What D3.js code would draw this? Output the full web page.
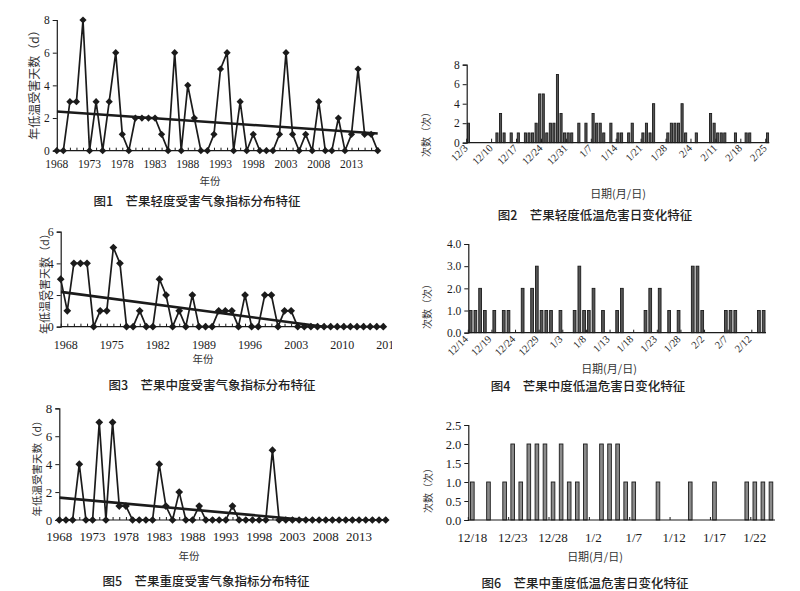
<!DOCTYPE html>
<html><head><meta charset="utf-8">
<script src="https://cdn.jsdelivr.net/npm/d3@7"></script>
<style>body{margin:0;background:#fff}svg{display:block}</style>
</head><body>
<svg id="c" width="800" height="591"></svg>
<script>
// ---------------- DATA ----------------
const years = [1968,1969,1970,1971,1972,1973,1974,1975,1976,1977,1978,1979,1980,1981,1982,1983,1984,1985,1986,1987,1988,1989,1990,1991,1992,1993,1994,1995,1996,1997,1998,1999,2000,2001,2002,2003,2004,2005,2006,2007,2008,2009,2010,2011,2012,2013,2014,2015,2016,2017];
const mildDays     = [0,0,3,3,8,0,3,0,3,6,1,0,2,2,2,2,1,0,6,0,4,2,0,0,1,5,6,0,3,0,1,0,0,0,1,6,1,0,1,0,3,0,0,2,0,1,5,1,1,0];
const moderateDays = [3,1,4,4,4,0,1,1,5,4,0,0,1,0,0,3,2,0,1,0,2,0,0,0,1,1,1,0,2,0,0,2,2,0,1,1,0,0,0,0,0,0,0,0,0,0,0,0,0,0];
const severeDays   = [0,0,0,4,0,0,7,0,7,1,1,0,0,0,0,4,1,0,2,0,0,1,0,0,0,0,1,0,0,0,0,0,5,0,0,0,0,0,0,0,0,0,0,0,0,0,0,0,0,0];
// linear trend values at first and last year
const mildTrend     = [2.4, 1.05];
const moderateTrend = [2.2, -0.5];
const severeTrend   = [1.6, -0.51];
const fig1Labels = [1968,1973,1978,1983,1988,1993,1998,2003,2008,2013];
const fig3Labels = [1968,1975,1982,1989,1996,2003,2010,2017];
const fig5Labels = [1968,1973,1978,1983,1988,1993,1998,2003,2008,2013];

// daily counts
const fmt = d3.timeFormat("%-m/%-d");
const fig2Days = d3.timeDay.range(new Date(2000,11,3), new Date(2001,1,26)).map(fmt);   // 12/3 - 2/25
const fig2Counts = [2,0,0,0,0,0,0,0, 1,3,1,0,1,0,1,0, 1,1,1,2,5,5,1,2, 2,7,3,1,1,1,0,2,
                    0,2,0,3,2,2,1,0, 2,0,1,1,0,1,2,0, 0,1,2,1,4,0,0,0, 1,2,2,2,4,1,0,0,
                    1,0,0,0,3,2,1,1, 1,0,0,1,0,0,1,1, 0,0,0,0,1];
const fig2Labels = ["12/3","12/10","12/17","12/24","12/31","1/7","1/14","1/21","1/28","2/4","2/11","2/18","2/25"];

const fig4Days = d3.timeDay.range(new Date(2000,11,14), new Date(2001,1,15)).map(fmt);  // 12/14 - 2/14
const fig4Counts = [1,1,2,1,0,1,0,1,1,0, 0,2,0,2,3,1,1,1,0,1, 0,0,1,3,1,1,2,0,1,0,
                    0,1,2,0,0,0,0,1,2,0, 2,0,1,0,1,0,0,3,3,1, 0,0,0,0,1,1,1,0,0,0, 0,1,1];
const fig4Labels = ["12/14","12/19","12/24","12/29","1/3","1/8","1/13","1/18","1/23","1/28","2/2","2/7","2/12"];

const fig6Days = d3.timeDay.range(new Date(2000,11,18), new Date(2001,0,25)).map(fmt);  // 12/18 - 1/24
const fig6Counts = [1,0,1,0,1,2,1,2,2,2, 1,2,1,1,2,0,2,2,2,1, 1,0,0,1,0,0,0,1,0,0, 1,0,0,0,1,1,1,1];
const fig6Labels = ["12/18","12/23","12/28","1/2","1/7","1/12","1/17","1/22"];

const captions = ["图1　芒果轻度受害气象指标分布特征","图2　芒果轻度低温危害日变化特征",
                  "图3　芒果中度受害气象指标分布特征","图4　芒果中度低温危害日变化特征",
                  "图5　芒果重度受害气象指标分布特征","图6　芒果中重度低温危害日变化特征"];

// ---------------- DRAWING ----------------
const svg = d3.select("#c");
svg.append("rect").attr("width",800).attr("height",591).attr("fill","#fff");
const NUM = "'Liberation Serif', 'DejaVu Serif', serif";
const CJK = "'Noto Sans CJK SC', sans-serif";
const INK = "#1b1b1b";
const defs = svg.append("defs");

function styleAxis(g, fs){
  g.selectAll("path.domain").attr("stroke",INK).attr("stroke-width",1.2);
  g.selectAll(".tick line").attr("stroke",INK).attr("stroke-width",1);
  g.selectAll(".tick text").attr("fill",INK).attr("font-family",NUM).attr("font-size",fs);
}

function linePanel(c){
  const g = svg.append("g");
  const x = d3.scaleLinear().domain([years[0], years[years.length-1]]).range([c.x0, c.x1]);
  const y = d3.scaleLinear().domain([0, c.yMax]).range([c.y0, c.yTop]);
  const ya = g.append("g").attr("transform",`translate(${c.x0},0)`)
    .call(d3.axisLeft(y).tickValues(c.yTicks).tickSize(4).tickPadding(3).tickFormat(d3.format("d")));
  styleAxis(ya, c.fs);
  const xa = g.append("g").attr("transform",`translate(0,${c.y0})`)
    .call(d3.axisBottom(x).tickValues(years).tickSize(-3).tickFormat(""));
  styleAxis(xa, c.fs);
  xa.select("path.domain").attr("d",`M${c.x0},0H${c.x1 + 2}`);
  const clipId = "tclip" + c.id;
  defs.append("clipPath").attr("id",clipId).append("rect")
    .attr("x",0).attr("y",c.y0).attr("width",c.textClip).attr("height",40);
  g.append("g").attr("clip-path",`url(#${clipId})`).selectAll("text").data(c.labels).join("text")
    .attr("x", d => x(d) + c.labelDx).attr("y", c.labelY)
    .attr("text-anchor","middle").attr("dominant-baseline","central")
    .attr("font-family",NUM).attr("font-size",c.fs).attr("fill",INK).text(d => d);
  const pcId = "pclip" + c.id;
  defs.append("clipPath").attr("id",pcId).append("rect")
    .attr("x",c.x0).attr("y",c.yTop-10).attr("width",c.x1-c.x0+5).attr("height",c.y0-c.yTop+10);
  const trendPts = [[years[0], c.trend[0]],[years[years.length-1], c.trend[1]]];
  g.append("path").datum(c.values.map((v,i)=>[years[i],v]))
    .attr("d", d3.line().x(d=>x(d[0])).y(d=>y(d[1])))
    .attr("fill","none").attr("stroke",INK).attr("stroke-width",1.7).attr("stroke-linejoin","round");
  g.append("path").datum(trendPts).attr("clip-path",`url(#${pcId})`)
    .attr("d", d3.line().x(d=>x(d[0])).y(d=>y(d[1])))
    .attr("fill","none").attr("stroke",INK).attr("stroke-width",2.6);
  g.selectAll("path.mk").data(c.values).join("path").attr("class","mk")
    .attr("d", d3.symbol(d3.symbolSquare, c.mk))
    .attr("transform",(d,i)=>`translate(${x(years[i])},${y(d)}) rotate(45)`)
    .attr("fill",INK);
  g.append("text").attr("transform",`translate(${c.yTitle[0]},${c.yTitle[1]}) rotate(-90)`)
    .attr("text-anchor","middle").attr("dominant-baseline","central")
    .attr("font-family",CJK).attr("font-size",c.yTitleFs).attr("fill","#333").text("年低温受害天数（d）");
  g.append("text").attr("x",c.xTitle[0]).attr("y",c.xTitle[1])
    .attr("text-anchor","middle").attr("dominant-baseline","central")
    .attr("font-family",CJK).attr("font-size",10.5).attr("fill","#333").text("年份");
}

function barPanel(c){
  const g = svg.append("g");
  const x = d3.scaleBand().domain(c.cats).range([c.x0, c.x1]).paddingInner(c.pad).paddingOuter(c.pad/2);
  const y = d3.scaleLinear().domain([0, c.yMax]).range([c.y0, c.yTop]);
  const ya = g.append("g").attr("transform",`translate(${c.x0},0)`)
    .call(d3.axisLeft(y).tickValues(c.yTicks).tickSize(4).tickPadding(3).tickFormat(c.yFmt));
  styleAxis(ya, c.yFs);
  g.selectAll("rect.bar").data(c.values.map((v,i)=>({cat:c.cats[i], v})).filter(d=>d.v>0)).join("rect")
    .attr("class","bar")
    .attr("x", d => x(d.cat)).attr("width", x.bandwidth())
    .attr("y", d => y(d.v)).attr("height", d => y(0) - y(d.v))
    .attr("fill", c.fill).attr("stroke", INK).attr("stroke-width", 0.9);
  const step = x.step();
  const xa = g.append("g").attr("transform",`translate(0,${c.y0})`)
    .call(d3.axisBottom(x).tickValues(c.labels).tickSize(-c.tickLen).tickFormat(""));
  styleAxis(xa, 10);
  xa.select("path.domain").attr("d",`M${c.x0},0H${c.x1}`);
  xa.selectAll(".tick").attr("transform", d => `translate(${x(d) - (step - x.bandwidth())/2},0)`);
  const lab = g.append("g").selectAll("text").data(c.labels).join("text")
    .attr("font-family",NUM).attr("font-size",c.xFs).attr("fill",INK).text(d=>d);
  if (c.rotate){
    lab.attr("text-anchor","end")
      .attr("transform", d => `translate(${x(d) + x.bandwidth()/2 + c.lblDx},${c.y0 + c.lblDy}) rotate(-45)`);
  } else {
    lab.attr("text-anchor","middle").attr("dominant-baseline","central")
      .attr("x", d => x(d) + x.bandwidth()/2).attr("y", c.labelY);
  }
  g.append("text").attr("transform",`translate(${c.yTitle[0]},${c.yTitle[1]}) rotate(-90)`)
    .attr("text-anchor","middle").attr("dominant-baseline","central")
    .attr("font-family",CJK).attr("font-size",c.yTitleFs).attr("fill","#333").text("次数（次）");
  g.append("text").attr("x",c.xTitle[0]).attr("y",c.xTitle[1])
    .attr("text-anchor","middle").attr("dominant-baseline","central")
    .attr("font-family",CJK).attr("font-size",11).attr("fill","#333").text("日期(月/日)");
}

function caption(i, cx, cy){
  svg.append("text").attr("x",cx).attr("y",cy).attr("text-anchor","middle").attr("dominant-baseline","central")
    .attr("font-family",CJK).attr("font-size",12.5).attr("font-weight",500).attr("fill","#222").text(captions[i]);
}

linePanel({id:1, values:mildDays, trend:mildTrend, labels:fig1Labels,
  x0:56.8, x1:377.7, y0:150.7, yTop:20, yMax:8, yTicks:[0,2,4,6,8], fs:11.5,
  labelY:164, labelDx:0, textClip:400, mk:26, yTitle:[33,82], yTitleFs:12, xTitle:[210,180]});
linePanel({id:3, values:moderateDays, trend:moderateTrend, labels:fig3Labels,
  x0:60.7, x1:383.3, y0:326.7, yTop:231.7, yMax:6, yTicks:[0,2,4,6], fs:12,
  labelY:344.5, labelDx:5, textClip:392, mk:30, yTitle:[44,281], yTitleFs:11, xTitle:[203,358]});
linePanel({id:5, values:severeDays, trend:severeTrend, labels:fig5Labels,
  x0:59.3, x1:385.7, y0:520, yTop:408.3, yMax:8, yTicks:[0,2,4,6,8], fs:13,
  labelY:536, labelDx:0, textClip:400, mk:30, yTitle:[36,466], yTitleFs:10.5, xTitle:[189,555]});

barPanel({cats:fig2Days, values:fig2Counts, labels:fig2Labels, x0:466.7, x1:769.3, y0:142.7, yTop:64.7,
  yMax:8, yTicks:[0,2,4,6,8], yFmt:d3.format("d"), yFs:11.5, pad:0.4, fill:"#555", tickLen:4,
  rotate:true, lblDx:0, lblDy:6, xFs:10.5, yTitle:[425,132], yTitleFs:10, xTitle:[618,193]});
barPanel({cats:fig4Days, values:fig4Counts, labels:fig4Labels, x0:468.3, x1:766, y0:332.7, yTop:244,
  yMax:4, yTicks:[0,1,2,3,4], yFmt:d3.format(".1f"), yFs:11.5, pad:0.42, fill:"#555", tickLen:3,
  rotate:true, lblDx:-2, lblDy:7, xFs:10.5, yTitle:[426,304], yTitleFs:10, xTitle:[609,368]});
barPanel({cats:fig6Days, values:fig6Counts, labels:fig6Labels, x0:468.3, x1:775, y0:520, yTop:425,
  yMax:2.5, yTicks:[0,0.5,1,1.5,2,2.5], yFmt:d3.format(".1f"), yFs:12.5, pad:0.55, fill:"#8a8a8a", tickLen:3,
  rotate:false, labelY:537, xFs:13, yTitle:[427,488], yTitleFs:10, xTitle:[595,556]});

caption(0, 197, 200);
caption(1, 595, 214);
caption(2, 212, 384);
caption(3, 588, 385);
caption(4, 206, 580);
caption(5, 585, 582);
</script>
</body></html>
